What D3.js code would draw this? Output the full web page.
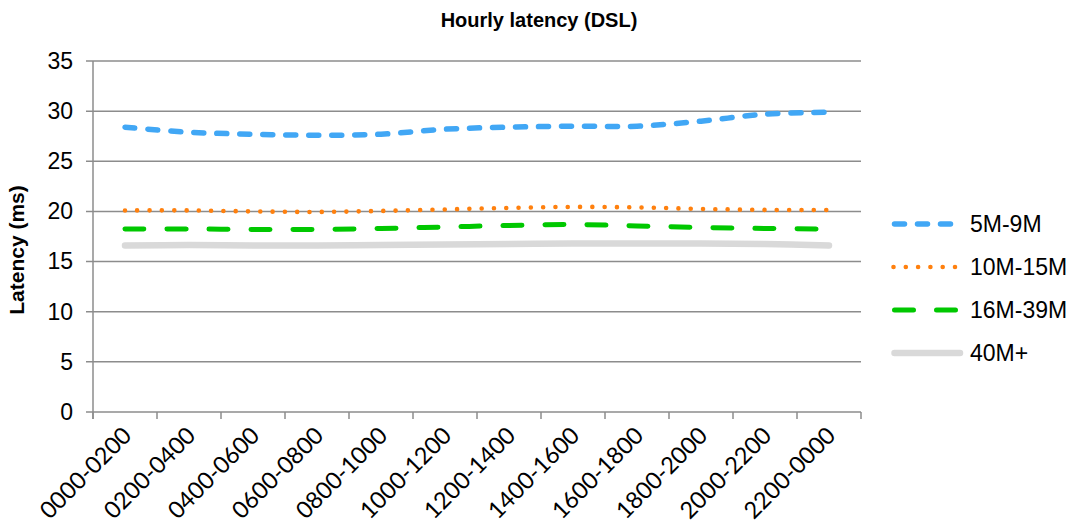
<!DOCTYPE html>
<html>
<head>
<meta charset="utf-8">
<script src="https://cdn.jsdelivr.net/npm/d3@7"></script>
<style>
  body { margin: 0; background: #fff; }
  text { font-family: "Liberation Sans", Arial, sans-serif; fill: #000; }
</style>
</head>
<body>
<svg id="chart"></svg>
<script>
// data
var hours = ["0000-0200", "0200-0400", "0400-0600", "0600-0800", "0800-1000", "1000-1200",
             "1200-1400", "1400-1600", "1600-1800", "1800-2000", "2000-2200", "2200-0000"];
var s5to9   = [28.4, 27.9, 27.7, 27.6, 27.7, 28.2, 28.4, 28.5, 28.5, 29.0, 29.7, 29.9];
var s10to15 = [20.1, 20.1, 20.0, 19.95, 20.05, 20.2, 20.35, 20.45, 20.4, 20.25, 20.15, 20.15];
var s16to39 = [18.25, 18.25, 18.2, 18.2, 18.3, 18.45, 18.6, 18.7, 18.55, 18.4, 18.3, 18.25];
var s40plus = [16.6, 16.65, 16.6, 16.6, 16.65, 16.7, 16.75, 16.8, 16.8, 16.8, 16.75, 16.6];
var seriesNames = ["5M-9M", "10M-15M", "16M-39M", "40M+"];
var yTicks = [0, 5, 10, 15, 20, 25, 30, 35];

var size = { width: 1077, height: 528 };
var margin = { top: 61, left: 93, right: 216, bottom: 116 };
var width = size.width - margin.left - margin.right;
var height = size.height - margin.top - margin.bottom;

var styles = [
  { color: "#41a7f5", w: 5.5, dash: "10 13" },
  { color: "#ff800e", w: 4.6, dash: "0 12.3" },
  { color: "#00c800", w: 5,   dash: "19 23" },
  { color: "#d9d9d9", w: 6.5, dash: null }
];
var series = [s5to9, s10to15, s16to39, s40plus].map(function(v, i) {
  return { name: seriesNames[i], values: v, style: styles[i] };
});

var svg = d3.select("#chart")
  .attr("width", size.width)
  .attr("height", size.height);

var g = svg.append("g")
  .attr("transform", "translate(" + margin.left + "," + margin.top + ")");

var x = d3.scaleBand().domain(hours).range([0, width]);
var y = d3.scaleLinear().domain([0, 35]).range([height, 0]);

// gridlines
g.selectAll(".grid")
  .data(yTicks)
  .enter().append("line")
  .attr("x1", -7).attr("x2", width)
  .attr("y1", function(d) { return y(d); })
  .attr("y2", function(d) { return y(d); })
  .attr("stroke", "#8c8c8c")
  .attr("stroke-width", 1.5);

// y axis
var yAxis = g.append("g")
  .call(d3.axisLeft(y).tickValues(yTicks).tickSize(0).tickPadding(20));
yAxis.select(".domain").remove();
yAxis.selectAll("text")
  .style("font-size", "23px")
  .style("font-family", "Liberation Sans, Arial, sans-serif");

g.append("line")
  .attr("x1", 0).attr("x2", 0)
  .attr("y1", 0).attr("y2", height + 7)
  .attr("stroke", "#8c8c8c").attr("stroke-width", 1.5);

// x axis ticks at band edges
var edges = hours.map(function(h) { return x(h); }).concat([width]);
g.selectAll(".xtick")
  .data(edges)
  .enter().append("line")
  .attr("x1", function(d) { return d; })
  .attr("x2", function(d) { return d; })
  .attr("y1", height).attr("y2", height + 7)
  .attr("stroke", "#8c8c8c").attr("stroke-width", 1.5);

g.selectAll(".xlabel")
  .data(hours)
  .enter().append("text")
  .attr("text-anchor", "end")
  .attr("transform", function(d) {
    return "translate(" + (x(d) + x.bandwidth() / 2 + 8) + "," + (height + 25) + ") rotate(-45)";
  })
  .style("font-family", "Lato, sans-serif")
  .style("font-size", "23.5px")
  .text(function(d) { return d; });

// lines
var line = d3.line()
  .x(function(d, i) { return x(hours[i]) + x.bandwidth() / 2; })
  .y(function(d) { return y(d); })
  .curve(d3.curveCatmullRom);

// draw back to front
series.slice().reverse().forEach(function(s) {
  g.append("path")
    .datum(s.values)
    .attr("d", line)
    .attr("fill", "none")
    .attr("stroke", s.style.color)
    .attr("stroke-width", s.style.w)
    .attr("stroke-linecap", "round")
    .attr("stroke-dasharray", s.style.dash);
});

// title
svg.append("text")
  .attr("x", 539).attr("y", 27)
  .attr("text-anchor", "middle")
  .style("font-size", "20px")
  .style("font-weight", "bold")
  .text("Hourly latency (DSL)");

// y axis title
svg.append("text")
  .attr("transform", "translate(24,250) rotate(-90)")
  .attr("text-anchor", "middle")
  .style("font-size", "21px")
  .style("font-weight", "bold")
  .text("Latency (ms)");

// legend
var legend = svg.selectAll(".legend")
  .data(series)
  .enter().append("g")
  .attr("transform", function(d, i) { return "translate(0," + (224 + i * 43) + ")"; });

legend.append("line")
  .attr("x1", function(d, i) { return i == 1 ? 893.5 : 894.5; })
  .attr("x2", function(d, i) { return i == 3 ? 960 : 958; })
  .attr("y1", 0).attr("y2", 0)
  .attr("stroke", function(d) { return d.style.color; })
  .attr("stroke-width", function(d) { return d.style.w; })
  .attr("stroke-linecap", "round")
  .attr("stroke-dasharray", function(d) { return d.style.dash; });

legend.append("text")
  .attr("x", 970).attr("y", 8)
  .style("font-size", "23px")
  .text(function(d) { return d.name; });
</script>
</body>
</html>
